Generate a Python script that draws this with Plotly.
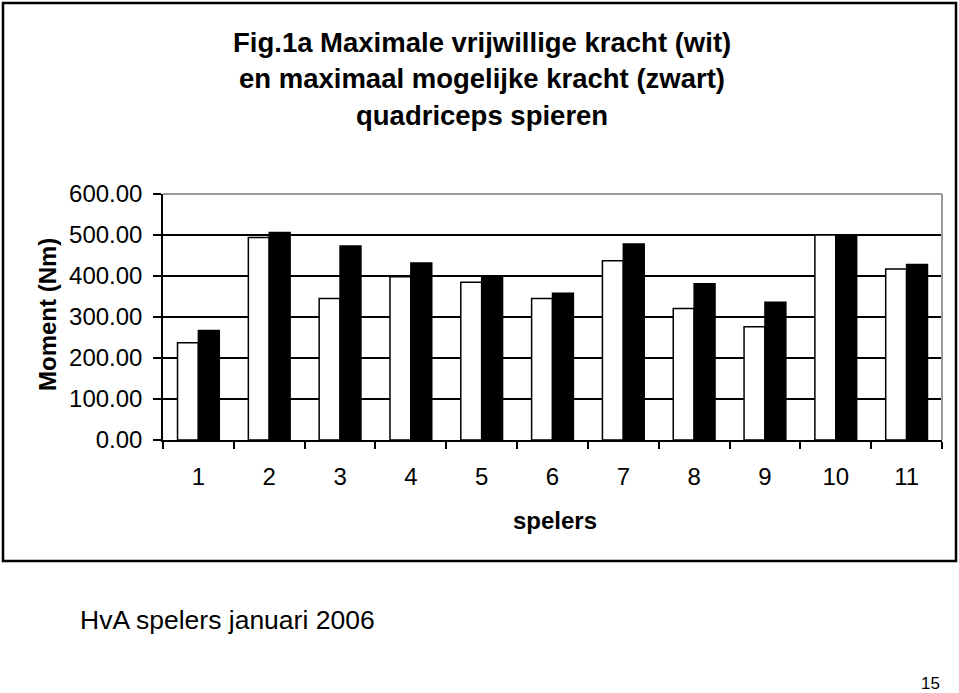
import plotly.graph_objects as go

players = ["1", "2", "3", "4", "5", "6", "7", "8", "9", "10", "11"]
voluntary_wit = [237, 494, 345, 398, 385, 345, 437, 321, 276, 500, 417]
possible_zwart = [267, 506, 473, 432, 398, 358, 478, 381, 336, 500, 428]
y_ticks = [0, 100, 200, 300, 400, 500, 600]

title_lines = [
    "Fig.1a Maximale vrijwillige kracht (wit)",
    "en maximaal mogelijke kracht (zwart)",
    "quadriceps spieren",
]

FONT = "Liberation Sans, Arial, sans-serif"

W, H = 959, 693
L, R, T, B = 163, 942, 194, 440  # plot area in pixels


def px(x):
    return (x - L) / (R - L)


def py(y):
    return (B - y) / (B - T)


fig = go.Figure()
fig.add_trace(go.Bar(x=players, y=voluntary_wit, name="wit",
                     marker=dict(color="white", line=dict(color="black", width=1.5))))
fig.add_trace(go.Bar(x=players, y=possible_zwart, name="zwart",
                     marker=dict(color="black", line=dict(color="black", width=1.5))))

fig.update_layout(
    width=W, height=H,
    margin=dict(l=L, r=W - R, t=T, b=H - B, autoexpand=False),
    paper_bgcolor="white", plot_bgcolor="white",
    barmode="group", bargap=0.41, bargroupgap=0,
    showlegend=False,
    font=dict(family=FONT, color="black"),
)

fig.update_xaxes(
    type="category", showgrid=False, showline=True, linecolor="black", linewidth=1.5,
    ticks="outside", tickson="boundaries", ticklen=7, tickwidth=1.5, tickcolor="black",
    tickfont=dict(size=24, family=FONT, color="black"), ticklabelstandoff=14,
)
fig.update_yaxes(
    range=[0, 600], tickvals=y_ticks, tickformat=".2f",
    showgrid=True, gridcolor="black", gridwidth=1.5,
    showline=True, linecolor="black", linewidth=1.5, zeroline=False,
    ticks="outside", ticklen=8, tickwidth=1.5, tickcolor="black",
    tickfont=dict(size=24, family=FONT, color="black"), ticklabelstandoff=6,
)

shapes = [
    # grey top and right borders of plot area
    dict(type="line", xref="paper", yref="paper", x0=0, x1=1, y0=1, y1=1,
         line=dict(color="#999999", width=2), layer="above"),
    dict(type="line", xref="paper", yref="paper", x0=1, x1=1, y0=0, y1=1,
         line=dict(color="#999999", width=2), layer="above"),
    # outer chart border
    dict(type="rect", xref="paper", yref="paper",
         x0=px(3), x1=px(956), y0=py(561), y1=py(3),
         line=dict(color="black", width=2.5), fillcolor="rgba(0,0,0,0)", layer="above"),
]
fig.update_layout(shapes=shapes)

annotations = []
for line_text, yc in zip(title_lines, [42, 78, 115]):
    annotations.append(dict(text=line_text, xref="paper", yref="paper",
                            x=px(482), y=py(yc), xanchor="center", yanchor="middle",
                            showarrow=False, font=dict(size=27.5, family=FONT, color="black",
                                                       weight="bold")))
annotations.append(dict(text="Moment (Nm)", xref="paper", yref="paper",
                        x=px(47), y=py(315), xanchor="center", yanchor="middle",
                        textangle=-90, showarrow=False,
                        font=dict(size=24, family=FONT, color="black", weight="bold")))
annotations.append(dict(text="spelers", xref="paper", yref="paper",
                        x=px(555), y=py(520), xanchor="center", yanchor="middle",
                        showarrow=False,
                        font=dict(size=24, family=FONT, color="black", weight="bold")))
annotations.append(dict(text="HvA spelers januari 2006", xref="paper", yref="paper",
                        x=px(78), y=py(620), xanchor="left", yanchor="middle",
                        showarrow=False, font=dict(size=26.5, family=FONT, color="black")))
annotations.append(dict(text="15", xref="paper", yref="paper",
                        x=px(930), y=py(683), xanchor="center", yanchor="middle",
                        showarrow=False, font=dict(size=17, family=FONT, color="black")))
fig.update_layout(annotations=annotations)

fig.write_html("out.html",
               config={"displayModeBar": False},
               post_script="document.body.style.margin='0';document.body.style.overflow='hidden';")
